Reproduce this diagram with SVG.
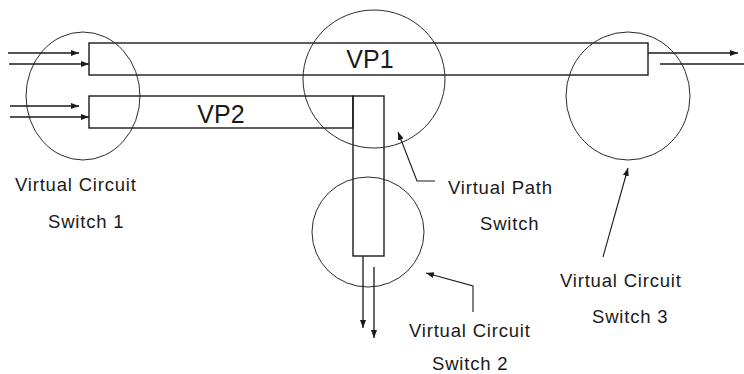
<svg xmlns="http://www.w3.org/2000/svg" width="744" height="374" viewBox="0 0 744 374">
<style>
.bg{fill:#fff}
.box{fill:none;stroke:#1a1a1a;stroke-width:1.4}
.sw{fill:none;stroke:#2a2a2a;stroke-width:1}
.ln{fill:none;stroke:#1a1a1a;stroke-width:1.3}
.lead{fill:none;stroke:#1a1a1a;stroke-width:1.1}
.lbl{font-family:"Liberation Sans",Arial,sans-serif;font-size:18.5px;letter-spacing:0.8px;fill:#1a1a1a}
.vp{font-family:"Liberation Sans",Arial,sans-serif;font-size:25px;fill:#1a1a1a}
</style>
<defs>
<marker id="ah" markerWidth="8" markerHeight="6" refX="8" refY="3" orient="auto" markerUnits="userSpaceOnUse">
<path d="M0,0 L8,3 L0,6 Z" fill="#1a1a1a"/>
</marker>
</defs>
<rect class="bg" x="0" y="0" width="744" height="374"/>
<g id="vp1">
<rect class="box" x="89" y="43" width="559" height="32"/>
<text class="vp" x="370" y="68" text-anchor="middle">VP1</text>
</g>
<g id="vp2">
<rect class="box" x="89" y="96" width="264" height="32"/>
<rect class="box" x="353" y="96" width="31" height="160"/>
<text class="vp" x="221" y="123" text-anchor="middle">VP2</text>
</g>
<g id="vc-switch-1">
<ellipse class="sw" cx="83" cy="96" rx="57" ry="64"/>
<text class="lbl" x="15" y="191">Virtual Circuit</text>
<text class="lbl" x="48" y="228">Switch 1</text>
</g>
<g id="vp-switch">
<ellipse class="sw" cx="374" cy="79" rx="71" ry="69"/>
<text class="lbl" x="448" y="194">Virtual Path</text>
<text class="lbl" x="480" y="230">Switch</text>
</g>
<g id="vc-switch-2">
<ellipse class="sw" cx="368" cy="232" rx="56" ry="55"/>
<text class="lbl" x="409" y="337">Virtual Circuit</text>
<text class="lbl" x="432" y="370">Switch 2</text>
</g>
<g id="vc-switch-3">
<ellipse class="sw" cx="628" cy="96" rx="62" ry="64"/>
<text class="lbl" x="560" y="287">Virtual Circuit</text>
<text class="lbl" x="592" y="323">Switch 3</text>
</g>
<g id="connectors">
<line class="ln" x1="8" y1="53" x2="79" y2="53" marker-end="url(#ah)"/>
<line class="ln" x1="9" y1="64" x2="89" y2="64" marker-end="url(#ah)"/>
<line class="ln" x1="10" y1="106" x2="79" y2="106" marker-end="url(#ah)"/>
<line class="ln" x1="10" y1="117" x2="89" y2="117" marker-end="url(#ah)"/>
<line class="ln" x1="648" y1="53" x2="738" y2="53" marker-end="url(#ah)"/>
<line class="ln" x1="660" y1="64" x2="744" y2="64"/>
<line class="ln" x1="363" y1="256" x2="363" y2="328" marker-end="url(#ah)"/>
<line class="ln" x1="374" y1="267" x2="374" y2="338" marker-end="url(#ah)"/>
<polyline class="lead" points="435,181 417,181 398,132" marker-end="url(#ah)"/>
<polyline class="lead" points="473,312 473,286 426,273" marker-end="url(#ah)"/>
<line class="lead" x1="603" y1="257" x2="628" y2="168" marker-end="url(#ah)"/>
</g>
</svg>
